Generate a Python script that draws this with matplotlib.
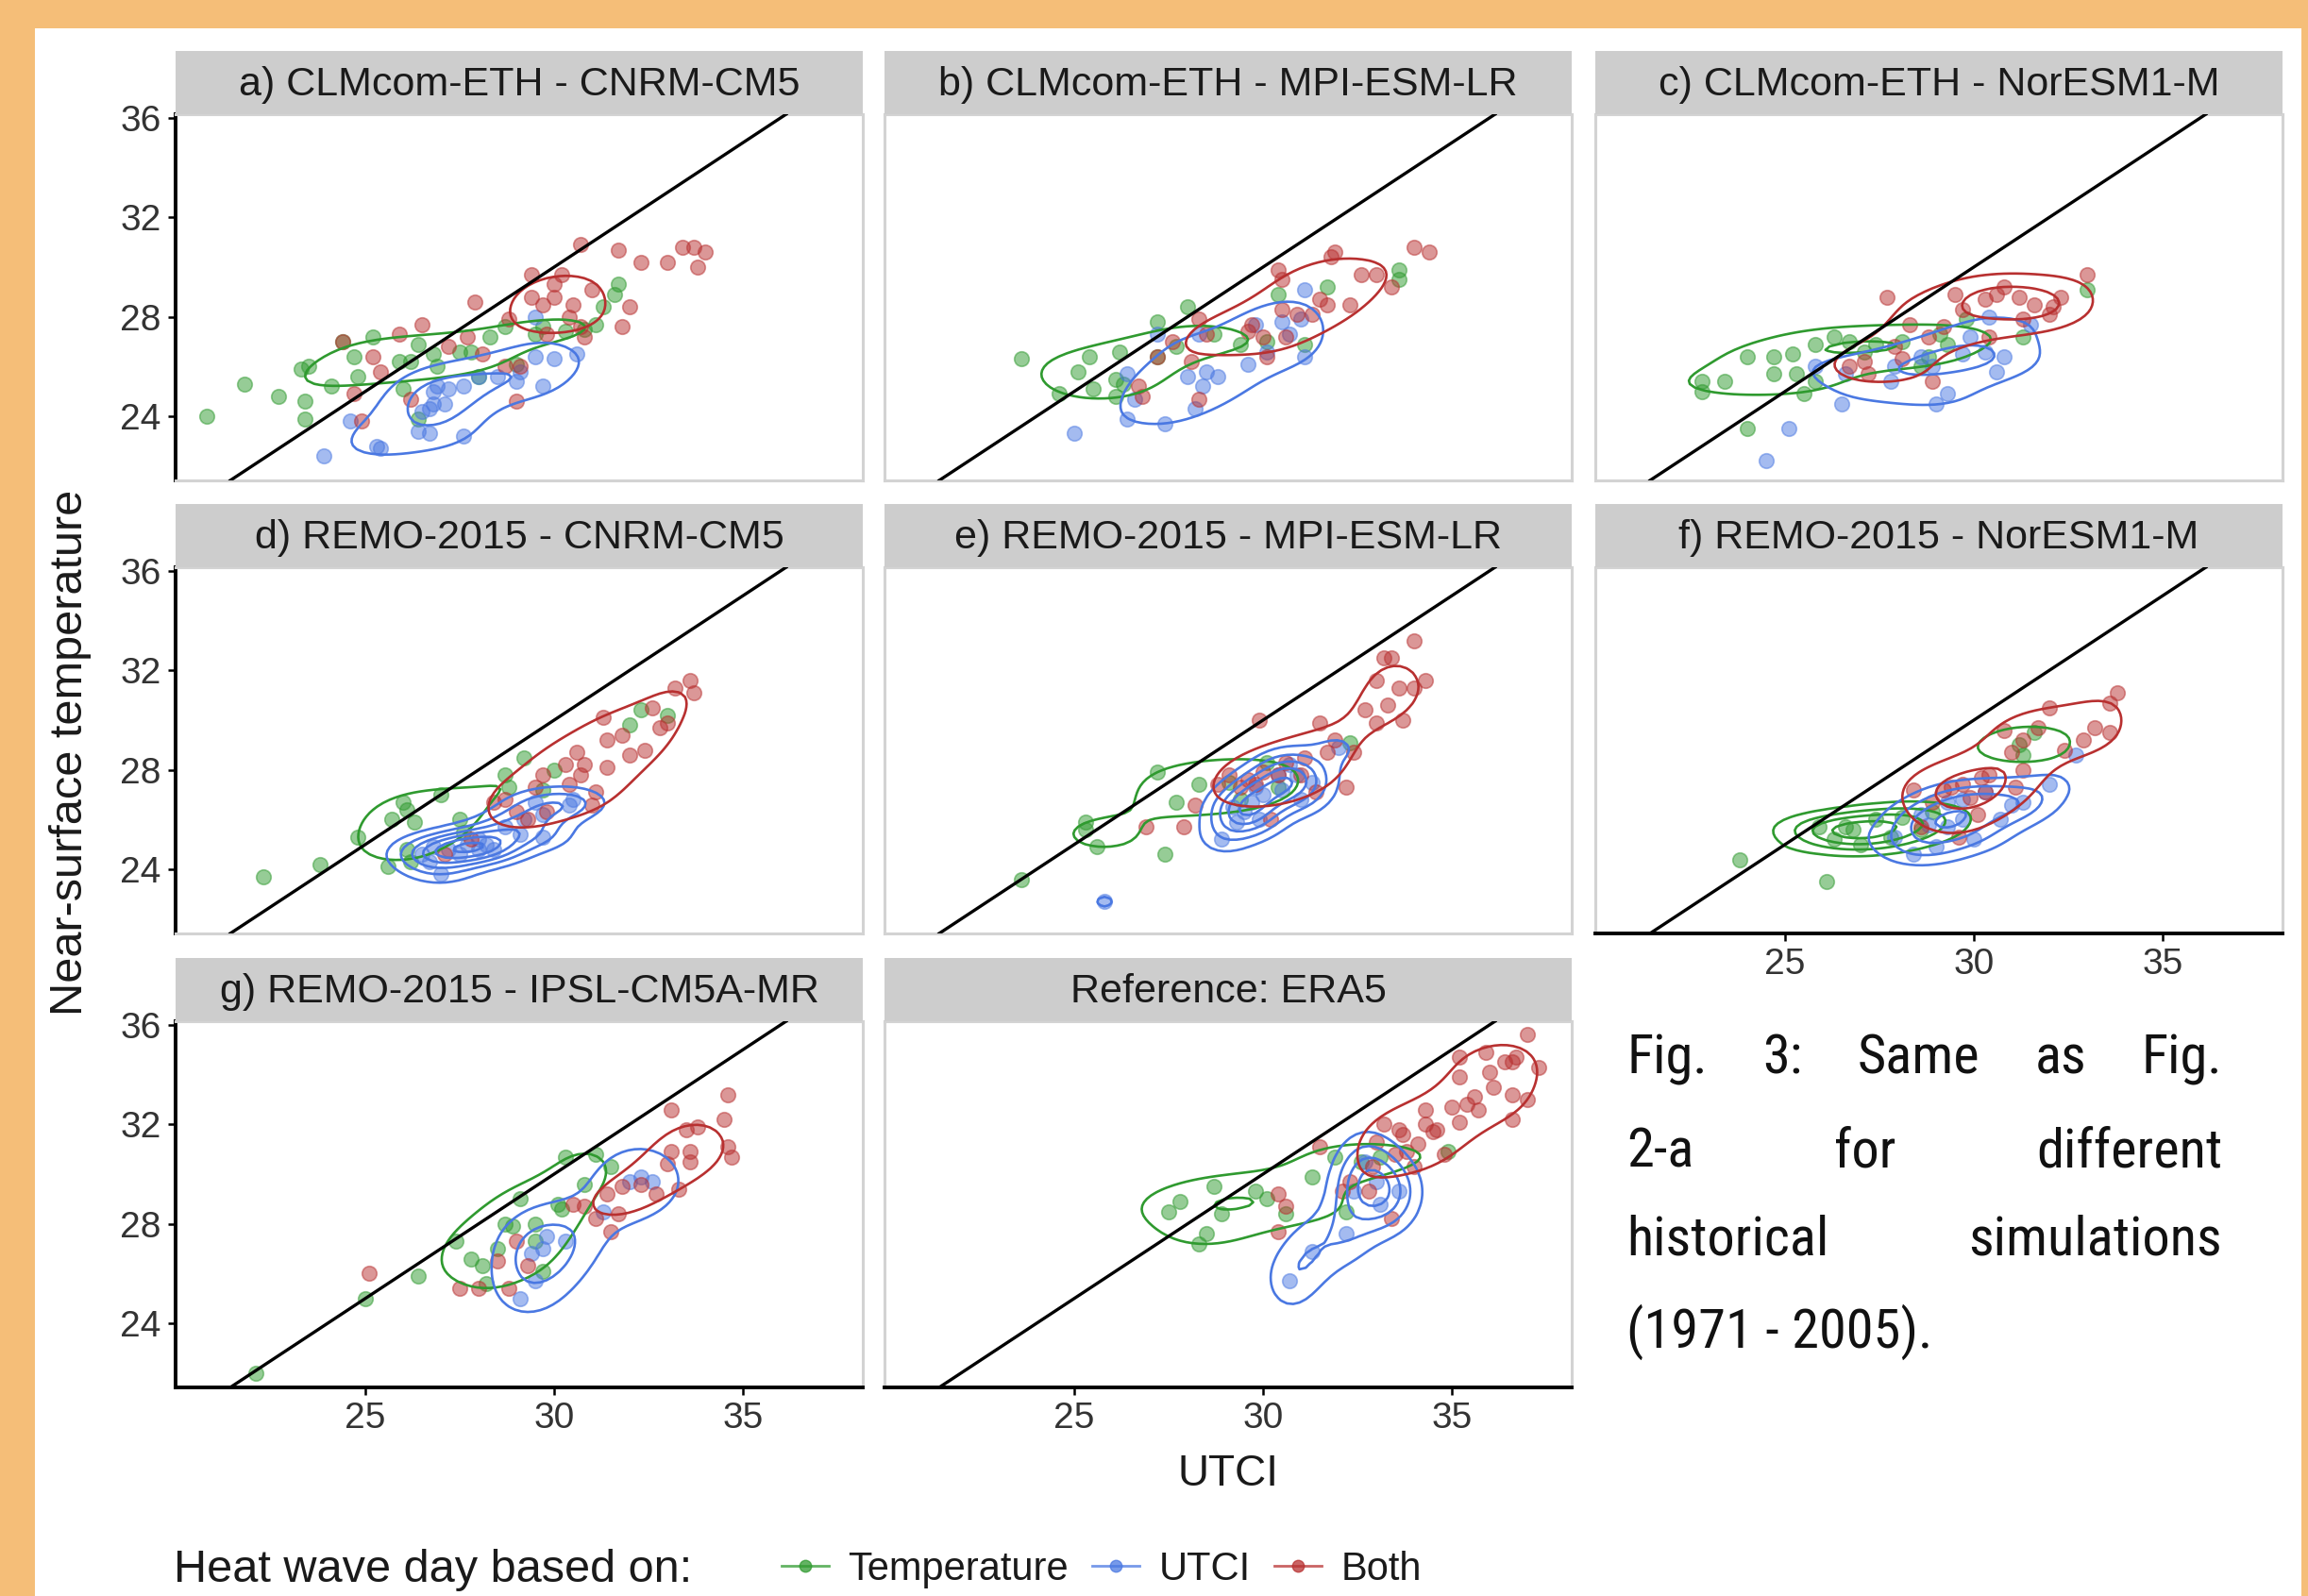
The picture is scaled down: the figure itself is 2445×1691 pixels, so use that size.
import matplotlib.pyplot as plt
import numpy as np
from matplotlib.lines import Line2D
from matplotlib.patches import Rectangle

plt.rcParams['font.family'] = ['Liberation Sans', 'DejaVu Sans']

W, H = 2445, 1691

titles = ['a) CLMcom-ETH - CNRM-CM5', 'b) CLMcom-ETH - MPI-ESM-LR', 'c) CLMcom-ETH - NorESM1-M',
          'd) REMO-2015 - CNRM-CM5', 'e) REMO-2015 - MPI-ESM-LR', 'f) REMO-2015 - NorESM1-M',
          'g) REMO-2015 - IPSL-CM5A-MR', 'Reference: ERA5']
groups = ['Temperature', 'UTCI', 'Both']
colors = ['#2f9a2f', '#4a78e2', '#b83030']
xticks = [25, 30, 35]
yticks = [24, 28, 32, 36]

# (UTCI, near-surface temperature)
a_temp = [(20.8, 24.0), (21.8, 25.3), (22.7, 24.8), (23.3, 25.9), (23.5, 26.0), (23.4, 24.6), (23.4, 23.9),
          (24.1, 25.2), (24.4, 27.0), (24.7, 26.4), (24.8, 25.6), (25.2, 27.2), (25.9, 26.2), (26.0, 25.1),
          (26.4, 26.9), (26.8, 26.5), (26.9, 26.0), (27.5, 26.6), (28.0, 25.6), (28.3, 27.2), (28.7, 27.6),
          (29.5, 27.3), (29.7, 27.6), (30.3, 27.4), (31.1, 27.7), (31.3, 28.4), (31.7, 29.3), (31.6, 28.9),
          (30.8, 27.5), (26.4, 23.9), (27.8, 26.6), (26.2, 26.2), (29.0, 26.1)]
a_utci = [(23.9, 22.4), (24.6, 23.8), (25.3, 22.8), (25.4, 22.7), (26.4, 23.4), (26.7, 23.3), (26.5, 24.2),
          (26.8, 25.0), (26.9, 25.2), (27.2, 25.1), (27.6, 25.2), (27.6, 23.2), (26.8, 24.5), (28.0, 25.6),
          (28.5, 25.6), (29.0, 25.4), (29.7, 25.2), (29.5, 26.4), (30.0, 26.3), (30.6, 26.5), (29.5, 28.0),
          (29.1, 25.8), (27.1, 24.5), (26.7, 24.3)]
a_both = [(24.4, 27.0), (24.9, 23.8), (24.7, 24.9), (25.9, 27.3), (26.5, 27.7), (25.2, 26.4), (25.4, 25.8),
          (26.2, 24.7), (27.9, 28.6), (27.2, 26.8), (27.7, 27.2), (28.1, 26.5), (28.7, 26.0), (29.1, 26.0),
          (29.0, 24.6), (29.4, 29.7), (29.4, 28.8), (29.7, 28.5), (30.0, 28.8), (30.2, 29.7), (30.0, 29.3),
          (30.5, 28.5), (30.4, 28.0), (30.7, 27.6), (31.0, 29.1), (30.7, 30.9), (31.7, 30.7), (32.3, 30.2),
          (33.0, 30.2), (33.4, 30.8), (33.7, 30.8), (33.8, 30.0), (34.0, 30.6), (32.0, 28.4), (31.8, 27.6),
          (30.8, 27.2), (28.8, 27.9), (29.8, 27.3)]

b_temp = [(23.6, 26.3), (24.6, 24.9), (25.1, 25.8), (25.4, 26.4), (25.5, 25.1), (26.1, 24.8), (26.2, 26.6),
          (26.1, 25.5), (26.3, 25.3), (27.2, 27.8), (27.2, 26.4), (28.0, 28.4), (27.7, 26.8), (28.7, 27.3),
          (30.4, 28.9), (31.7, 29.2), (29.4, 26.9), (31.1, 26.9), (33.6, 29.5), (33.6, 29.9), (30.1, 27.0)]
b_utci = [(25.0, 23.3), (26.4, 23.9), (27.4, 23.7), (28.2, 24.3), (26.6, 24.7), (26.4, 25.7), (28.0, 25.6),
          (28.4, 25.2), (28.8, 25.6), (28.5, 25.8), (29.6, 26.1), (29.8, 27.7), (30.5, 27.8), (31.1, 29.1),
          (31.1, 26.4), (30.7, 27.3), (31.0, 27.9), (27.2, 27.3), (28.3, 27.3), (30.1, 26.6)]
b_both = [(26.7, 25.2), (26.8, 24.8), (27.2, 26.4), (28.3, 24.7), (28.1, 26.2), (28.3, 27.9), (28.5, 27.3),
          (27.6, 27.0), (30.4, 29.9), (30.5, 29.5), (30.5, 28.3), (29.7, 27.7), (30.0, 27.2), (30.1, 26.4),
          (30.6, 27.2), (30.9, 28.1), (31.3, 28.1), (31.5, 28.7), (31.7, 28.5), (31.8, 30.4), (31.9, 30.6),
          (32.3, 28.5), (32.6, 29.7), (33.0, 29.7), (33.4, 29.2), (34.0, 30.8), (34.4, 30.6), (29.6, 27.4)]

c_temp = [(22.8, 25.4), (22.8, 25.0), (23.4, 25.4), (24.0, 23.5), (24.0, 26.4), (24.7, 25.7), (24.7, 26.4),
          (25.2, 26.5), (25.3, 25.7), (25.5, 24.9), (25.8, 26.9), (25.8, 25.4), (26.3, 27.2), (26.7, 27.0),
          (27.1, 26.6), (27.4, 26.9), (28.1, 27.0), (28.8, 26.4), (29.1, 27.3), (29.3, 26.9), (31.3, 27.2),
          (33.0, 29.1), (29.8, 27.9), (28.6, 26.0)]
c_utci = [(24.5, 22.2), (25.1, 23.5), (26.5, 24.5), (25.8, 26.0), (26.6, 25.7), (27.8, 25.4), (27.9, 26.0),
          (29.0, 24.5), (29.3, 24.9), (28.9, 26.0), (30.3, 26.6), (30.4, 28.0), (30.6, 25.8), (30.8, 26.4),
          (31.5, 27.7), (29.9, 27.2), (29.7, 26.5), (28.6, 26.4)]
c_both = [(27.7, 28.8), (27.1, 26.2), (26.7, 26.0), (27.2, 25.7), (27.9, 26.8), (28.1, 26.3), (28.3, 27.7),
          (28.9, 25.4), (29.2, 27.6), (29.5, 28.9), (29.7, 28.3), (30.3, 28.7), (30.6, 28.9), (30.8, 29.2),
          (31.2, 28.8), (31.6, 28.5), (31.3, 27.9), (30.4, 27.2), (32.0, 28.1), (32.1, 28.4), (32.3, 28.8),
          (33.0, 29.7), (28.8, 27.2)]

d_temp = [(22.3, 23.7), (23.8, 24.2), (24.8, 25.3), (25.6, 24.1), (25.7, 26.0), (26.0, 26.7), (26.1, 26.4),
          (26.1, 24.8), (26.2, 24.3), (26.3, 25.9), (27.0, 27.0), (27.5, 26.0), (27.6, 25.5), (28.7, 27.8),
          (29.2, 28.5), (29.7, 27.2), (30.0, 28.0), (32.0, 29.8), (32.3, 30.4), (33.0, 30.2), (28.8, 27.3)]
d_utci = [(26.5, 24.6), (26.8, 24.9), (27.0, 23.8), (27.2, 24.8), (27.7, 25.0), (28.0, 24.8), (28.2, 25.0),
          (28.0, 25.2), (28.4, 24.8), (27.5, 24.6), (28.7, 25.7), (29.2, 26.0), (29.7, 26.2), (29.7, 25.3),
          (30.4, 26.6), (30.5, 26.8), (29.5, 26.7), (29.1, 25.4), (26.7, 24.3)]
d_both = [(27.1, 24.6), (27.8, 25.2), (28.4, 26.7), (28.7, 26.8), (29.0, 26.3), (29.3, 26.0), (29.5, 27.3),
          (29.8, 26.3), (30.3, 28.2), (30.4, 27.4), (30.6, 28.7), (30.7, 27.8), (30.8, 28.2), (31.1, 27.1),
          (31.3, 30.1), (31.4, 28.1), (31.4, 29.2), (31.8, 29.4), (32.0, 28.6), (32.4, 28.8), (32.6, 30.5),
          (32.8, 29.7), (33.0, 29.9), (33.2, 31.3), (33.6, 31.6), (33.7, 31.1), (29.7, 27.8), (31.0, 26.6)]

e_temp = [(23.6, 23.6), (25.3, 25.9), (25.3, 25.6), (25.6, 24.9), (27.4, 24.6), (27.2, 27.9), (27.7, 26.7),
          (28.3, 27.4), (29.1, 27.5), (29.4, 26.8), (30.1, 28.3), (30.4, 27.3), (32.3, 29.1)]
e_utci = [(25.8, 22.7), (28.9, 25.2), (29.3, 25.9), (29.7, 26.7), (30.4, 27.8), (30.9, 27.8), (32.0, 28.9),
          (29.8, 27.3), (31.0, 26.8), (29.5, 26.3), (30.0, 27.0), (30.5, 27.2), (29.9, 26.0), (30.7, 28.2),
          (31.3, 27.5), (29.2, 26.5)]
e_both = [(26.9, 25.7), (27.9, 25.7), (28.2, 26.6), (28.8, 27.4), (29.1, 27.8), (29.4, 27.3), (29.6, 27.6),
          (29.8, 27.4), (30.0, 27.9), (29.9, 30.0), (30.2, 26.0), (30.4, 27.8), (30.6, 28.3), (31.1, 28.5),
          (31.4, 27.1), (31.5, 29.9), (31.7, 28.7), (31.9, 29.2), (32.2, 27.3), (32.4, 28.7), (32.7, 30.4),
          (33.0, 29.9), (33.0, 31.6), (33.2, 32.5), (33.4, 32.5), (33.3, 30.6), (33.6, 31.3), (33.7, 30.0),
          (34.0, 31.3), (34.3, 31.6), (34.0, 33.2), (31.0, 27.8)]

f_temp = [(23.8, 24.4), (26.1, 23.5), (25.9, 25.7), (26.3, 25.2), (26.6, 25.7), (26.8, 25.6), (27.0, 25.0),
          (27.4, 26.0), (28.1, 26.1), (28.6, 25.6), (28.9, 26.3), (27.8, 25.3), (31.3, 28.6), (31.6, 29.5),
          (31.2, 29.0)]
f_utci = [(27.9, 25.3), (28.4, 24.6), (29.0, 24.9), (29.3, 25.7), (29.7, 26.0), (30.0, 25.2), (28.8, 25.8),
          (30.7, 26.0), (31.0, 26.6), (31.3, 26.7), (32.0, 27.4), (32.7, 28.6), (30.3, 27.1), (29.3, 26.7),
          (29.7, 26.8), (28.6, 26.2)]
f_both = [(28.4, 27.2), (28.6, 25.7), (28.9, 26.7), (29.2, 27.2), (29.4, 27.3), (29.6, 25.3), (29.7, 27.4),
          (29.9, 26.9), (30.1, 26.2), (30.2, 27.7), (30.4, 27.8), (30.8, 29.6), (31.0, 28.7), (31.3, 29.2),
          (31.3, 28.0), (31.7, 29.7), (32.0, 30.5), (32.4, 28.8), (32.9, 29.2), (33.2, 29.7), (33.6, 29.5),
          (33.6, 30.7), (33.8, 31.1), (30.3, 27.1), (31.1, 27.3)]

g_temp = [(22.1, 22.0), (25.0, 25.0), (26.4, 25.9), (27.4, 27.3), (27.8, 26.6), (28.1, 26.3), (28.7, 28.0),
          (28.9, 27.9), (29.1, 29.0), (29.5, 28.0), (29.5, 27.3), (29.7, 26.1), (30.1, 28.8), (30.3, 30.7),
          (30.8, 29.6), (31.1, 30.8), (31.5, 30.3), (28.5, 27.0), (28.2, 25.6), (30.2, 28.6)]
g_utci = [(29.1, 25.0), (29.5, 25.7), (29.7, 27.0), (29.8, 27.5), (30.3, 27.3), (31.3, 28.5), (32.0, 29.7),
          (32.3, 29.9), (32.6, 29.7), (29.4, 26.8)]
g_both = [(25.1, 26.0), (27.5, 25.4), (28.0, 25.4), (28.5, 26.5), (28.8, 25.4), (29.0, 27.3), (29.3, 26.3),
          (30.5, 28.8), (30.8, 28.7), (31.4, 29.2), (31.5, 27.7), (31.7, 28.4), (31.8, 29.5), (32.3, 29.6),
          (33.0, 30.4), (33.1, 30.9), (33.1, 32.6), (33.3, 29.4), (33.5, 31.8), (33.8, 31.9), (33.6, 30.9),
          (33.6, 30.5), (34.5, 32.2), (34.6, 33.2), (34.6, 31.1), (34.7, 30.7), (32.7, 29.2), (31.1, 28.2)]

r_temp = [(27.5, 28.5), (27.8, 28.9), (28.3, 27.2), (28.5, 27.6), (28.7, 29.5), (28.9, 28.4), (29.8, 29.3),
          (30.1, 29.0), (30.6, 28.4), (31.3, 29.9), (31.9, 30.7), (32.2, 28.5), (32.6, 30.5), (33.1, 30.7),
          (34.9, 30.9)]
r_utci = [(30.7, 25.7), (31.3, 26.9), (32.2, 27.6), (33.1, 28.8), (33.0, 29.7), (32.7, 30.5), (32.4, 29.3),
          (33.6, 29.3)]
r_both = [(30.4, 29.2), (30.6, 28.7), (30.4, 27.7), (31.5, 31.1), (32.1, 29.3), (32.3, 29.7), (32.8, 29.3),
          (33.4, 28.2), (32.9, 30.3), (33.0, 31.3), (33.2, 32.0), (33.6, 31.8), (33.8, 30.9), (34.0, 30.3),
          (34.1, 31.2), (34.3, 32.0), (34.5, 31.7), (34.6, 31.8), (34.8, 30.8), (35.0, 32.7), (35.2, 32.1),
          (35.2, 34.7), (35.2, 33.9), (35.4, 32.8), (35.6, 33.1), (35.7, 32.6), (35.9, 34.9), (36.0, 34.1),
          (36.1, 33.5), (36.4, 34.5), (36.6, 34.5), (36.7, 34.7), (36.6, 33.2), (36.6, 32.2), (37.0, 35.6),
          (37.3, 34.3), (37.0, 33.0), (34.3, 32.6), (33.7, 31.6), (33.5, 30.8)]

panels = [(a_temp, a_utci, a_both), (b_temp, b_utci, b_both), (c_temp, c_utci, c_both),
          (d_temp, d_utci, d_both), (e_temp, e_utci, e_both), (f_temp, f_utci, f_both),
          (g_temp, g_utci, g_both), (r_temp, r_utci, r_both)]
slots = [(0, 0), (0, 1), (0, 2), (1, 0), (1, 1), (1, 2), (2, 0), (2, 1)]

xlim = (19.97, 38.18)
ylim = (21.42, 36.15)
levels = [0.026, 0.052, 0.078, 0.104, 0.13, 0.156, 0.182]

# pixel layout of the facets
col_x = [186, 937, 1690]
row_y = [121, 601, 1082]
pw, ph, sh = 728, 388, 67


def box(x, y, w, h):
    return [x / W, 1 - (y + h) / H, w / W, h / H]


def bw(v):
    q1, q3 = np.percentile(v, [25, 75])
    return 1.06 * min(np.std(v, ddof=1), (q3 - q1) / 1.34) * len(v) ** -0.2


def kde2d(x, y, gx, gy):
    hx, hy = bw(x), bw(y)
    kx = np.exp(-0.5 * ((gx[:, None] - x[None, :]) / hx) ** 2) / (hx * np.sqrt(2 * np.pi))
    ky = np.exp(-0.5 * ((gy[:, None] - y[None, :]) / hy) ** 2) / (hy * np.sqrt(2 * np.pi))
    return ky @ kx.T / len(x)


allpts = np.array([p for pan in panels for grp in pan for p in grp])
gx = np.linspace(allpts[:, 0].min(), allpts[:, 0].max(), 100)
gy = np.linspace(allpts[:, 1].min(), allpts[:, 1].max(), 100)

fig = plt.figure(figsize=(W / 100, H / 100), dpi=100, facecolor='#f5be78')
fig.patches.append(Rectangle((37 / W, 0), (2438 - 37) / W, 1 - 30 / H, transform=fig.transFigure,
                             facecolor='white', edgecolor='none', zorder=-1))

for k, (pan, (r, c)) in enumerate(zip(panels, slots)):
    ax = fig.add_axes(box(col_x[c], row_y[r], pw, ph))
    for grp, col in zip(pan, colors):
        pts = np.array(grp)
        ax.scatter(pts[:, 0], pts[:, 1], s=125, color=col, alpha=0.5, edgecolors=col, linewidths=1.2, zorder=2)
        z = kde2d(pts[:, 0], pts[:, 1], gx, gy)
        ax.contour(gx, gy, z, levels=levels, colors=col, linewidths=1.9, zorder=3)
    ax.axline((25, 25), slope=1, color='black', lw=2.4, zorder=4)
    ax.set_xlim(*xlim)
    ax.set_ylim(*ylim)
    for s in ax.spines.values():
        s.set_color('#d3d3d3')
        s.set_linewidth(2.2)

    left = c == 0
    bottom = r == 2 or k == 5
    ax.set_xticks(xticks)
    ax.set_yticks(yticks)
    ax.tick_params(direction='out', length=6, width=1.8, color='black', labelsize=28,
                   labelcolor='#333333', pad=5)
    ax.tick_params(axis='x', bottom=bottom, labelbottom=bottom)
    ax.tick_params(axis='y', left=left, labelleft=left)
    if left:
        ax.spines['left'].set_color('black')
        ax.spines['left'].set_linewidth(2.8)
    if bottom:
        ax.spines['bottom'].set_color('black')
        ax.spines['bottom'].set_linewidth(2.8)

    st = fig.add_axes(box(col_x[c], row_y[r] - sh, pw, sh))
    st.set_facecolor('#cdcdcd')
    st.set_xticks([])
    st.set_yticks([])
    for s in st.spines.values():
        s.set_visible(False)
    st.text(0.5, 0.47, titles[k], ha='center', va='center', fontsize=31, color='#1a1a1a',
            transform=st.transAxes)

fig.text(75 / W, 1 - 797 / H, 'Near-surface temperature', rotation=90, ha='center', va='center',
         fontsize=35, color='#1a1a1a')
fig.text(1301 / W, 1 - 1562 / H, 'UTCI', ha='center', va='center', fontsize=33, color='#1a1a1a')

fig.text(184 / W, 1 - 1663 / H, 'Heat wave day based on:', ha='left', va='center', fontsize=35,
         color='#1a1a1a')
handles = [Line2D([], [], color=col, marker='o', markersize=9, lw=2, alpha=0.75) for col in colors]
fig.legend(handles, groups, loc='center left', bbox_to_anchor=(790 / W, 1 - 1663 / H), ncol=3,
           frameon=False, fontsize=30, handlelength=1.2, handletextpad=0.5, columnspacing=0.6,
           labelcolor='#1a1a1a')

# justified caption in the empty facet slot
cap_lines = [['Fig.', '3:', 'Same', 'as', 'Fig.'], ['2-a', 'for', 'different'],
             ['historical', 'simulations'], ['(1971 - 2005).']]
cap_y = [1122, 1221, 1314, 1411]
cap_x0, cap_x1 = 1723, 2354
renderer = fig.canvas.get_renderer()
for words, yy in zip(cap_lines, cap_y):
    objs = [fig.text(0, 1 - yy / H, w, ha='left', va='center', fontsize=42, color='#111111',
                     family=['Roboto Condensed', 'Liberation Sans Narrow', 'Roboto'])
            for w in words]
    widths = [t.get_window_extent(renderer).width for t in objs]
    if len(objs) == 1:
        objs[0].set_x(cap_x0 / W)
        continue
    gap = (cap_x1 - cap_x0 - sum(widths)) / (len(objs) - 1)
    x = cap_x0
    for t, w in zip(objs, widths):
        t.set_x(x / W)
        x += w + gap

fig.savefig('out.png', dpi=100, facecolor=fig.get_facecolor())
